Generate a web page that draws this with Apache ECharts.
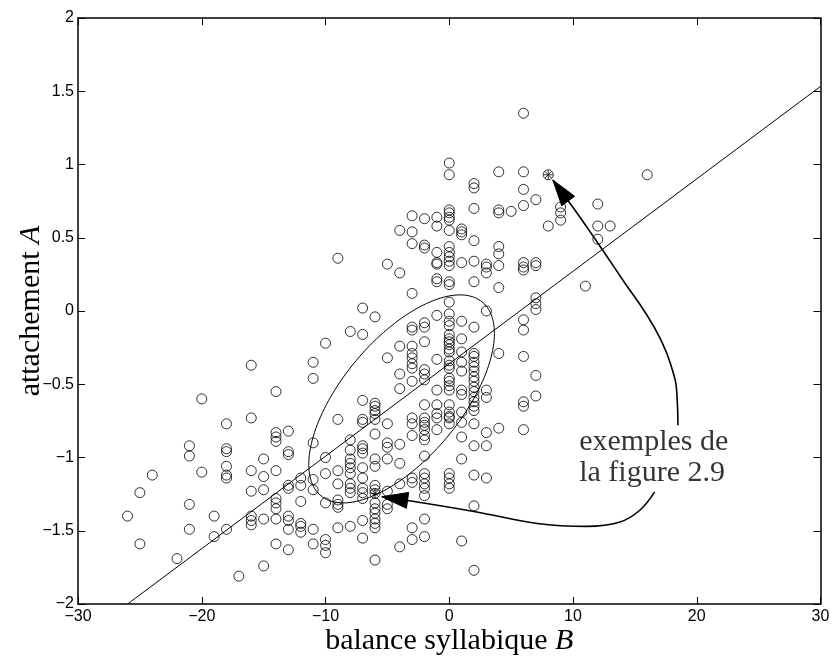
<!DOCTYPE html>
<html>
<head>
<meta charset="utf-8">
<script src="https://cdn.jsdelivr.net/npm/echarts@6/dist/echarts.min.js"></script>
<style>
  html, body { margin: 0; padding: 0; background: #fff; }
  #chart { width: 832px; height: 660px; }
</style>
</head>
<body>
<div id="chart"></div>
<script>
// Balance syllabique B (one entry per column of observations)
const balanceB = [-26, -25, -24, -22, -21, -20, -19, -18, -17, -16, -15, -14, -13, -12, -11, -10,
  -9, -8, -7, -6, -5, -4, -3, -2, -1, 0, 1, 2, 3, 4, 5, 6, 7, 8, 9, 11, 12, 13, 16];

// Attachement A observed for each value of B (same order as balanceB)
const attachementA = [
  [-1.40],
  [-1.24, -1.59],
  [-1.12],
  [-1.69],
  [-0.92, -0.99, -1.32, -1.49],
  [-0.60, -1.10],
  [-1.40, -1.54],
  [-0.77, -0.94, -0.96, -1.06, -1.12, -1.14, -1.49],
  [-1.81],
  [-0.37, -0.73, -1.09, -1.23, -1.40, -1.43, -1.46],
  [-1.01, -1.13, -1.22, -1.42, -1.74],
  [-0.55, -0.83, -0.86, -0.89, -1.09, -1.28, -1.31, -1.35, -1.42, -1.59],
  [-0.82, -0.96, -0.98, -1.19, -1.21, -1.40, -1.43, -1.49, -1.63],
  [-1.14, -1.19, -1.30, -1.45, -1.47, -1.51],
  [-0.35, -0.46, -0.90, -1.15, -1.22, -1.49, -1.59],
  [-0.22, -1.00, -1.11, -1.31, -1.56, -1.60, -1.65],
  [0.36, -0.74, -1.09, -1.18, -1.29, -1.32, -1.34, -1.48],
  [-0.14, -0.88, -0.95, -1.01, -1.04, -1.07, -1.11, -1.18, -1.21, -1.24, -1.47],
  [0.02, -0.16, -0.61, -0.74, -0.76, -0.92, -0.94, -0.97, -1.07, -1.14, -1.21, -1.24, -1.28, -1.43, -1.55],
  [-0.04, -0.63, -0.65, -0.68, -0.70, -0.74, -0.84, -1.01, -1.06, -1.19, -1.22, -1.245, -1.31, -1.35, -1.38, -1.42, -1.45, -1.48, -1.70],
  [0.32, -0.32, -0.77, -0.90, -0.93, -1.01, -1.23, -1.32, -1.35],
  [0.55, 0.26, -0.24, -0.43, -0.53, -0.91, -1.04, -1.18, -1.61],
  [0.65, 0.54, 0.46, 0.12, -0.11, -0.13, -0.24, -0.29, -0.32, -0.36, -0.39, -0.48, -0.73, -0.77, -0.85, -1.14, -1.17, -1.48, -1.56],
  [0.63, 0.45, 0.43, -0.08, -0.11, -0.21, -0.40, -0.43, -0.47, -0.64, -0.73, -0.76, -0.78, -0.81, -0.85, -0.88, -0.99, -1.11, -1.14, -1.18, -1.21, -1.26, -1.42, -1.54],
  [0.64, 0.58, 0.40, 0.33, 0.32, 0.22, 0.20, -0.03, -0.33, -0.54, -0.64, -0.70, -0.73, -0.81],
  [1.01, 0.93, 0.69, 0.67, 0.64, 0.62, 0.55, 0.44, 0.40, 0.37, 0.34, 0.31, 0.20, 0.18, 0.06, -0.02, -0.07, -0.10, -0.16, -0.19, -0.21, -0.23, -0.26, -0.28, -0.34, -0.37, -0.39, -0.46, -0.48, -0.51, -0.54, -0.64, -0.69, -0.72, -0.73, -0.77, -1.11, -1.14, -1.18, -1.21],
  [0.56, 0.54, 0.52, 0.33, -0.07, -0.19, -0.28, -0.35, -0.41, -0.54, -0.57, -0.69, -0.76, -0.86, -1.01, -1.57],
  [0.87, 0.84, 0.70, 0.48, 0.34, 0.20, -0.11, -0.29, -0.31, -0.35, -0.38, -0.41, -0.45, -0.48, -0.52, -0.55, -0.59, -0.62, -0.65, -0.68, -0.77, -0.92, -1.12, -1.33, -1.77],
  [0.32, 0.30, 0.26, 0.00, -0.54, -0.59, -0.83, -0.92, -1.14],
  [0.95, 0.69, 0.67, 0.44, 0.39, 0.31, 0.16, -0.29, -0.80],
  [0.68],
  [1.35, 0.95, 0.83, 0.72, 0.33, 0.30, 0.28, -0.06, -0.13, -0.31, -0.62, -0.65, -0.81],
  [0.76, 0.33, 0.31, 0.09, 0.05, 0.01, -0.44, -0.58],
  [0.93, 0.58],
  [0.71, 0.67, 0.62],
  [0.17],
  [0.73, 0.58, 0.49],
  [0.58],
  [0.93]
];

// The two highlighted examples (figure 2.9)
const exemplesB = [8, -6];
const exemplesA = [0.93, -1.245];

// Regression line A = origine + pente * B
const regression = { pente: 0.0631, origine: -0.36 };

// Covariance ellipse: centre, half-extents and correlation
const ellipse = { cB: -3.85, cA: -0.6, rB: 7.5, rA: 0.71, rho: 0.63 };

// Annotation arrows (paths in data units, ending at the tip)
const flecheHaut = [[18.48, -0.78], [18.40, -0.573], [17.91, -0.369], [17.02, -0.184], [15.81, -0.007],
  [14.19, 0.191], [12.17, 0.444], [10.15, 0.689], [8.37, 0.894]];
const flecheBas = [[16.6, -1.235], [15.4, -1.36], [13.8, -1.44], [11.1, -1.47], [7.1, -1.45],
  [2.1, -1.37], [-3.6, -1.29], [-5.45, -1.268]];

// Annotation text and its anchor
const legendeTexte = ['exemples de', 'la figure 2.9'];
const legendePos = [10.5, -1.0];

// Axis ranges
const axeB = { min: -30, max: 30, pas: 10 };
const axeA = { min: -2, max: 2, pas: 0.5 };

// ---- derived series ----
const points = [];
balanceB.forEach((b, i) => attachementA[i].forEach(a => points.push([b, a])));

const regLine = [
  [(axeA.min - regression.origine) / regression.pente, axeA.min],
  [axeB.max, regression.origine + regression.pente * axeB.max]
];

const ellipsePts = [];
for (let k = 0; k <= 160; k++) {
  const t = 2 * Math.PI * k / 160;
  ellipsePts.push([
    ellipse.cB + ellipse.rB * Math.cos(t),
    ellipse.cA + ellipse.rA * (ellipse.rho * Math.cos(t) + Math.sqrt(1 - ellipse.rho * ellipse.rho) * Math.sin(t))
  ]);
}

const tips = [flecheHaut, flecheBas].map(p => {
  const a = p[p.length - 1], b = p[p.length - 2];
  return [a[0], a[1], b[0], b[1]];
});

const fmtMinus = v => (v < 0 ? '\u2212' + Math.abs(v) : String(v));
const tickFont = { fontFamily: 'Liberation Sans', fontSize: 16, color: '#000' };
const serif = 'Liberation Serif';
const nameStyle = {
  fontFamily: serif, fontSize: 30, color: '#000',
  rich: { i: { fontFamily: serif, fontSize: 30, fontStyle: 'italic', color: '#000' } }
};

const baseAxisLine = { show: true, onZero: false, lineStyle: { color: '#000', width: 1.5 } };
const baseTick = { show: true, inside: true, length: 7, lineStyle: { color: '#000', width: 1 } };

const chart = echarts.init(document.getElementById('chart'), null, { renderer: 'canvas' });
chart.setOption({
  animation: false,
  backgroundColor: '#fff',
  grid: { left: 78, right: 11.5, top: 18, bottom: 56, containLabel: false, outerBoundsMode: 'none' },
  xAxis: [
    {
      type: 'value', min: axeB.min, max: axeB.max, interval: axeB.pas, position: 'bottom',
      axisLine: baseAxisLine, axisTick: baseTick, splitLine: { show: false },
      axisLabel: Object.assign({ margin: 5, formatter: fmtMinus }, tickFont),
      name: 'balance syllabique {i|B}', nameLocation: 'middle', nameGap: 22, nameMoveOverlap: false,
      nameTextStyle: nameStyle
    },
    {
      type: 'value', min: axeB.min, max: axeB.max, interval: axeB.pas, position: 'top',
      axisLine: baseAxisLine, axisTick: baseTick, splitLine: { show: false },
      axisLabel: { show: false }
    }
  ],
  yAxis: [
    {
      type: 'value', min: axeA.min, max: axeA.max, interval: axeA.pas, position: 'left',
      axisLine: baseAxisLine, axisTick: baseTick, splitLine: { show: false },
      axisLabel: Object.assign({ margin: 4, formatter: fmtMinus }, tickFont),
      name: 'attachement {i|A}', nameLocation: 'middle', nameGap: 32, nameMoveOverlap: false,
      nameTextStyle: nameStyle
    },
    {
      type: 'value', min: axeA.min, max: axeA.max, interval: axeA.pas, position: 'right',
      axisLine: baseAxisLine, axisTick: baseTick, splitLine: { show: false },
      axisLabel: { show: false }
    }
  ],
  series: [
    {
      name: 'observations', type: 'scatter', data: points, silent: true,
      symbol: 'circle', symbolSize: 10,
      itemStyle: { color: 'rgba(0,0,0,0)', borderColor: '#000', borderWidth: 1 },
      z: 3
    },
    {
      name: 'exemples', type: 'scatter', silent: true,
      data: exemplesB.map((b, i) => [b, exemplesA[i]]),
      symbol: 'path://M10,0L10,20M0,10L20,10M2.9,2.9L17.1,17.1M2.9,17.1L17.1,2.9',
      symbolSize: 9,
      itemStyle: { color: 'rgba(0,0,0,0)', borderColor: '#000', borderWidth: 1 },
      z: 4
    },
    {
      name: 'regression', type: 'line', data: regLine, silent: true, symbol: 'none',
      lineStyle: { color: '#000', width: 1 }, z: 2
    },
    {
      name: 'ellipse', type: 'line', data: ellipsePts, silent: true, symbol: 'none',
      lineStyle: { color: '#000', width: 1 }, z: 2
    },
    {
      name: 'fleche1', type: 'line', data: flecheHaut, silent: true, symbol: 'none', smooth: 0.5,
      lineStyle: { color: '#000', width: 1.6 }, z: 5
    },
    {
      name: 'fleche2', type: 'line', data: flecheBas, silent: true, symbol: 'none', smooth: 0.4,
      lineStyle: { color: '#000', width: 1.6 }, z: 5
    },
    {
      name: 'pointes', type: 'custom', silent: true, data: tips, z: 6,
      renderItem: function (params, api) {
        const tip = api.coord([api.value(0), api.value(1)]);
        const from = api.coord([api.value(2), api.value(3)]);
        const dx = tip[0] - from[0], dy = tip[1] - from[1];
        const len = Math.hypot(dx, dy) || 1;
        const ux = dx / len, uy = dy / len;
        const L = 26, W = 8;
        const bx = tip[0] - ux * L, by = tip[1] - uy * L;
        return {
          type: 'polygon',
          shape: { points: [tip, [bx - uy * W, by + ux * W], [bx + uy * W, by - ux * W]] },
          style: { fill: '#000', stroke: '#000', lineWidth: 1 }
        };
      }
    },
    {
      name: 'legende', type: 'scatter', silent: true, data: [legendePos],
      symbol: 'circle', symbolSize: 1, itemStyle: { color: 'rgba(0,0,0,0)' },
      label: {
        show: true, position: 'inside', align: 'left', verticalAlign: 'middle',
        formatter: legendeTexte.join('\n'),
        fontFamily: serif, fontSize: 30, lineHeight: 31, color: '#000'
      },
      z: 7
    }
  ]
});
</script>
</body>
</html>
